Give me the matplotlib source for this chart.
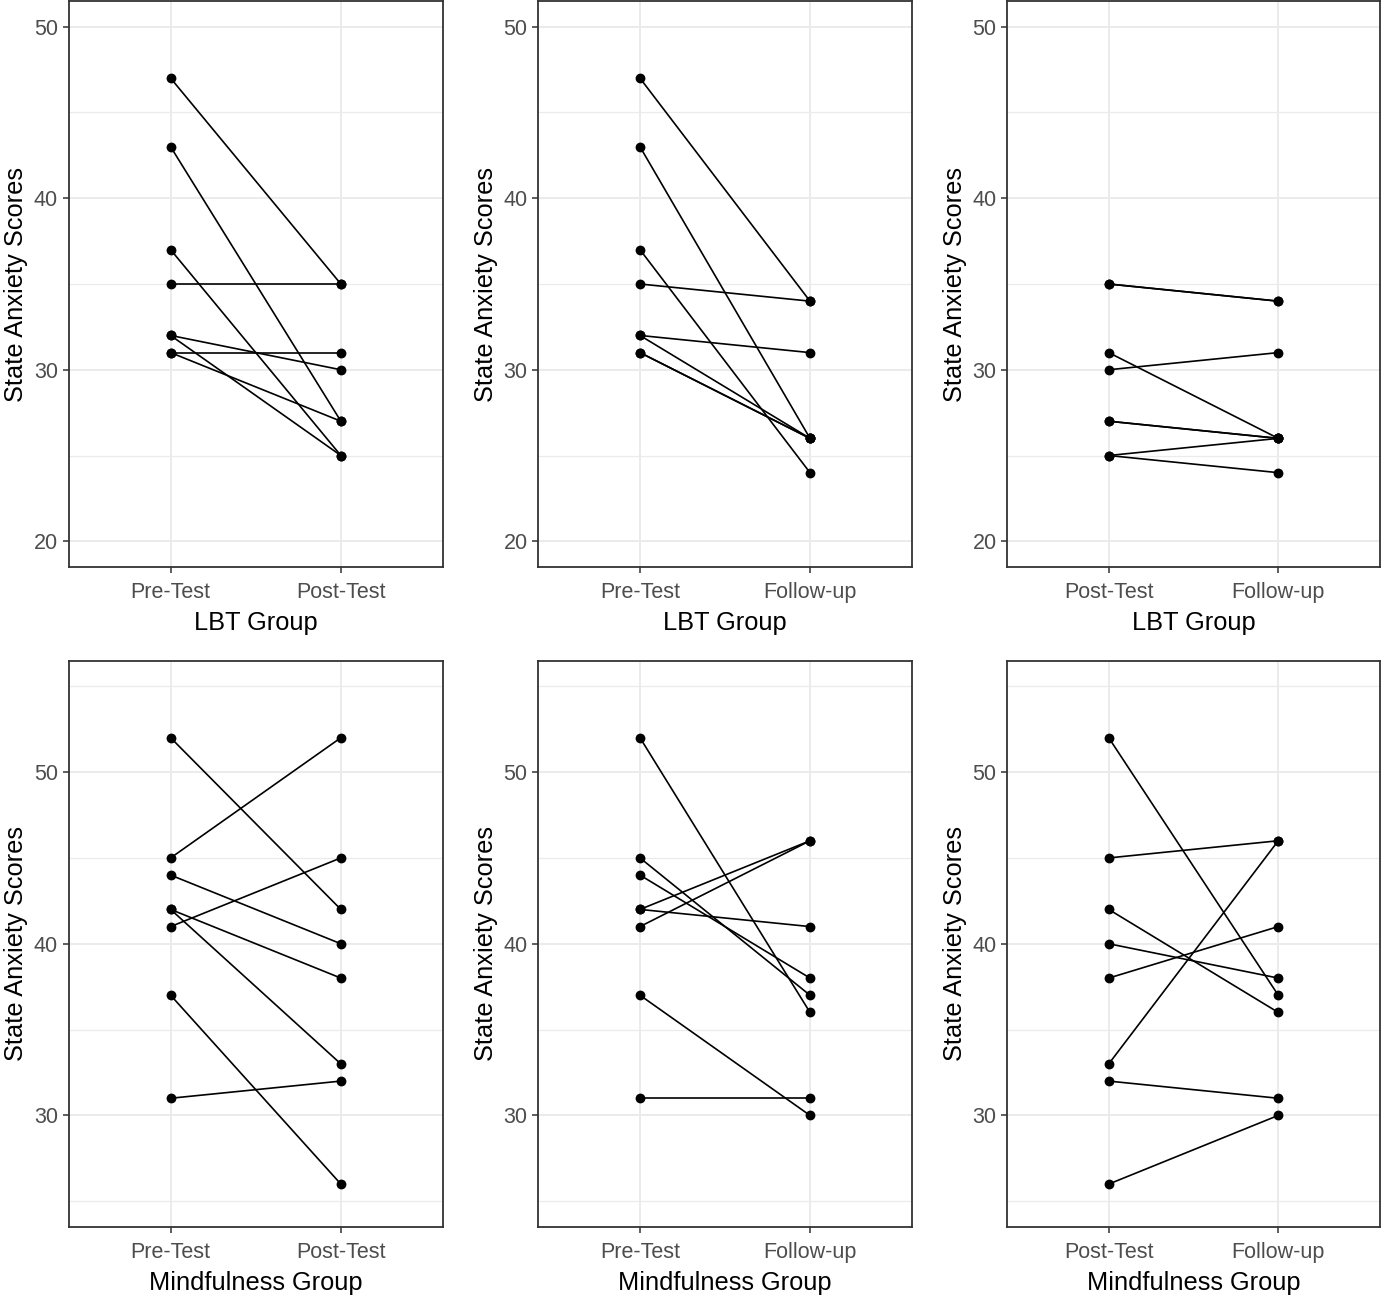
import numpy as np
import matplotlib
matplotlib.use('Agg')
import matplotlib.pyplot as plt

plt.rcParams['font.family'] = ['Liberation Sans', 'DejaVu Sans']

# LBT group scores, one entry per participant
lbt_pre = [47, 43, 37, 35, 32, 32, 31, 31]
lbt_post = [35, 27, 25, 35, 30, 25, 31, 27]
lbt_follow = [34, 26, 24, 34, 31, 26, 26, 26]

# Mindfulness group scores
mind_pre = [52, 45, 44, 42, 42, 41, 37, 31]
mind_post = [42, 52, 40, 38, 33, 45, 26, 32]
mind_follow = [36, 37, 38, 41, 46, 46, 30, 31]

lab_pre = 'Pre-Test'
lab_post = 'Post-Test'
lab_follow = 'Follow-up'

panels = [
    (lbt_pre, lbt_post, lab_pre, lab_post, 'LBT Group'),
    (lbt_pre, lbt_follow, lab_pre, lab_follow, 'LBT Group'),
    (lbt_post, lbt_follow, lab_post, lab_follow, 'LBT Group'),
    (mind_pre, mind_post, lab_pre, lab_post, 'Mindfulness Group'),
    (mind_pre, mind_follow, lab_pre, lab_follow, 'Mindfulness Group'),
    (mind_post, mind_follow, lab_post, lab_follow, 'Mindfulness Group'),
]

W, H = 1381, 1296
fig = plt.figure(figsize=(W / 100, H / 100), dpi=100)

col_left = [68.5, 538, 1007]
col_w = [374.5, 374, 373]
row_top = [1, 660.5]
row_bot = [567, 1227]

for k, (a, b, la, lb, grp) in enumerate(panels):
    r, c = k // 3, k % 3
    ax = fig.add_axes([col_left[c] / W, 1 - row_bot[r] / H,
                       col_w[c] / W, (row_bot[r] - row_top[r]) / H])
    for ya, yb in zip(a, b):
        ax.plot([1, 2], [ya, yb], color='black', lw=1.2, zorder=3)
    ax.scatter([1] * len(a) + [2] * len(b), list(a) + list(b),
               s=50, color='black', zorder=4, linewidths=0)
    ax.set_xlim(0.4, 2.6)
    ax.set_xticks([1, 2])
    ax.set_xticklabels([la, lb])
    if r == 0:
        ax.set_ylim(18.5, 51.5)
        ax.set_yticks([20, 30, 40, 50])
        ax.set_yticks([25, 35, 45], minor=True)
    else:
        ax.set_ylim(23.5, 56.5)
        ax.set_yticks([30, 40, 50])
        ax.set_yticks([25, 35, 45, 55], minor=True)
    ax.grid(which='major', color='#EBEBEB', lw=1.4, zorder=0)
    ax.grid(which='minor', axis='y', color='#EBEBEB', lw=0.9, zorder=0)
    ax.set_axisbelow(True)
    for s in ax.spines.values():
        s.set_color('#333333')
        s.set_linewidth(1.3)
    ax.tick_params(which='major', length=4.5, width=1.1, color='#333333',
                   labelsize=15.5, labelcolor='#4D4D4D', pad=3)
    ax.tick_params(axis='x', which='major', pad=6.5)
    ax.tick_params(which='minor', length=0)
    ax.set_xlabel(grp, fontsize=18.3, color='black', labelpad=5.5)
    ax.set_ylabel('State Anxiety Scores', fontsize=18.3, color='black', labelpad=4)

fig.savefig('out.png', dpi=100)
